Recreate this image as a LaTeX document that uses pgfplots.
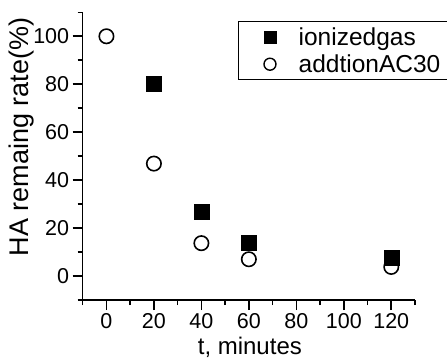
\documentclass[border=0pt]{standalone}
\usepackage{fontspec}
\setmainfont{Liberation Sans}
\usepackage{pgfplots}
\pgfplotsset{compat=1.18}

\begin{document}
\begin{tikzpicture}
\begin{axis}[
  at={(0pt,0pt)}, anchor=south west,
  scale only axis,
  width=332.3pt, height=287.7pt,
  xmin=-10, xmax=130, ymin=-10, ymax=110,
  axis x line=bottom, axis y line=left,
  axis line style={-, line width=1.6pt},
  xtick={0,20,...,120}, ytick={0,20,...,100},
  minor xtick={-10,10,...,130}, minor ytick={-10,10,...,110},
  tick align=outside,
  major tick length=10pt, minor tick length=5pt,
  every tick/.style={black, line width=1.6pt},
  /pgf/number format/assume math mode=true,
  tick label style={font=\fontsize{21.5}{23}\selectfont},
  xlabel={t, minutes},
  ylabel={HA remaing rate(\%)},
  xlabel style={font=\fontsize{24}{26}\selectfont, at={(axis description cs:0.503,-0.188)}, anchor=base},
  ylabel style={font=\fontsize{27}{29}\selectfont, at={(axis description cs:-0.184,0.567)}, anchor=center},
  legend style={at={(rel axis cs:0.467,0.970)}, anchor=north west,
    draw=black, line width=0.8pt, font=\fontsize{24.5}{26}\selectfont,
    row sep=4pt, inner xsep=8pt, inner ysep=4pt},
  legend cell align=left,
  legend image code/.code={%
    \path (0pt,0pt) (49pt,0pt);
    \draw[mark repeat=1, mark phase=1, #1] plot coordinates {(23pt,0pt)};},
  clip=false,
]
% ionized gas treatment
\addplot[only marks, mark=square*, mark size=7.5pt, black, forget plot]
  coordinates {(20,80.1) (40,26.9) (60,13.7) (120,7.8)};
% with AC30 added
\addplot[only marks, mark=o, mark size=7.2pt, line width=1.6pt, draw=black, forget plot,
  mark options={fill=white}]
  coordinates {(0,100) (20,46.9) (40,13.7) (60,7) (120,3.8)};
\addlegendimage{only marks, mark=square*, mark size=6pt, black}
\addlegendentry{ionizedgas}
\addlegendimage{only marks, mark=o, mark size=6pt, line width=1.4pt, black}
\addlegendentry{addtionAC30}
\end{axis}
\pgfresetboundingbox
\path (-82.7pt,-60pt) rectangle (364.3pt,300pt);
\end{tikzpicture}
\end{document}
